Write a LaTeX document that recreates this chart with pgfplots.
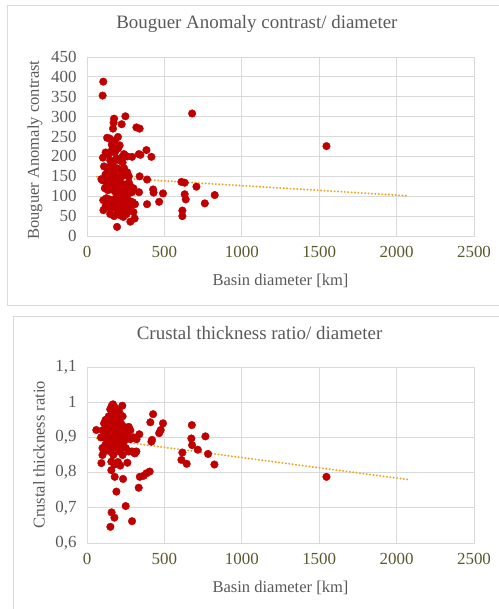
\documentclass[border=0pt]{standalone}
\usepackage{pgfplots}
\pgfplotsset{compat=1.18}
\usepackage{fontspec}
\setmainfont{Liberation Serif}

\definecolor{txtgray}{RGB}{89,89,89}
\definecolor{ticko}{RGB}{89,89,48}
\definecolor{gridc}{RGB}{217,217,217}
\definecolor{dotred}{RGB}{192,0,0}
\definecolor{trendc}{RGB}{238,165,40}

\pgfplotsset{
  excelstyle/.style={
    scale only axis,
    width=387bp,
    xmin=0, xmax=2500, xtick={0,500,1000,1500,2000,2500},
    grid=major, major grid style={gridc, line width=0.8bp},
    axis line style={gridc, line width=0.8bp},
    major tick length=0pt,
    /pgf/number format/use comma,
    /pgf/number format/1000 sep={},
    tick label style={font=\fontsize{17}{19}\selectfont,
      /pgf/number format/assume math mode=true},
    xticklabel style={ticko, yshift=-7bp},
    yticklabel style={txtgray, xshift=-7bp},
    label style={font=\fontsize{16.6}{19}\selectfont, txtgray},
    title style={font=\fontsize{19}{22}\selectfont, txtgray, anchor=base},
    xlabel style={at={(axis description cs:0.5,0)}, anchor=base, yshift=-49bp},
  },
  reddots/.style={only marks, mark=*, mark size=3.8bp,
    mark options={fill=dotred, draw=dotred}},
  trend/.style={trendc, line width=2.2bp, line cap=round,
    dash pattern=on 0pt off 3.4bp},
}

\begin{document}
\begin{tikzpicture}
% chart frames
\draw[gridc, line width=0.8bp] (7bp,-5bp) rectangle (520bp,-305bp);
\draw[gridc, line width=0.8bp] (13bp,-316bp) rectangle (520bp,-620bp);

\begin{axis}[excelstyle,
  at={(87bp,-236bp)}, anchor=south west,
  height=179bp,
  ymin=0, ymax=450, ytick={0,50,...,450},
  title={Bouguer Anomaly contrast/ diameter},
  title style={at={(axis description cs:0.439,1.127)}},
  xlabel={Basin diameter [km]},
  ylabel={Bouguer Anomaly contrast},
  ylabel style={at={(axis description cs:-0.1344,0.48)}, anchor=center},
]
\addplot[reddots] table {
x y
105 388
101 353
679 308
1547 226
248 301
224 281
175 295
172 285
168 270
319 273
340 270
130 247
147 245
200 249
384 216
335 206
345 204
416 199
291 199
239 206
103 197
211 228
168 220
340 150
388 142
259 153
610 136
631 134
707 124
825 103
761 82
631 105
638 92
616 64
616 50
491 107
466 86
427 117
430 109
388 80
336 110
308 44
280 36
194 23
106 65
93 143
120 210
140 205
160 215
180 210
200 220
150 190
170 185
190 195
210 190
230 185
110 175
130 170
150 175
175 165
195 170
215 165
240 170
260 160
120 155
140 150
160 155
185 150
205 145
225 150
250 155
270 150
100 140
125 135
145 140
170 135
190 130
210 135
235 130
255 125
280 125
300 120
115 120
135 115
155 118
180 112
200 120
220 110
245 115
265 105
290 110
105 90
125 95
145 92
165 88
185 95
205 90
230 85
250 90
275 88
295 85
310 80
120 75
140 72
160 70
180 78
200 68
220 72
240 65
260 75
280 70
150 55
175 50
195 58
215 52
235 48
255 55
300 60
130 85
160 130
240 100
200 100
270 135
230 200
180 240
160 230
260 200
};
\addplot[trend] coordinates {(65,149) (2074,101)};
\end{axis}

\begin{axis}[excelstyle,
  at={(87bp,-543bp)}, anchor=south west,
  height=176bp,
  ymin=0.6, ymax=1.1, ytick={0.6,0.7,0.8,0.9,1,1.1},
  title={Crustal thickness ratio/ diameter},
  title style={at={(axis description cs:0.446,1.125)}},
  xlabel={Basin diameter [km]},
  ylabel={Crustal thickness ratio},
  ylabel style={at={(axis description cs:-0.124,0.5)}, anchor=center},
]
\addplot[reddots] table {
x y
1547 0.788
151 0.646
177 0.672
159 0.687
250 0.705
291 0.662
190 0.746
334 0.757
341 0.788
366 0.791
384 0.798
405 0.803
233 0.782
179 0.788
261 0.828
93 0.827
157 0.831
179 0.823
157 0.807
308 0.855
319 0.86
338 0.909
416 0.888
420 0.893
427 0.966
409 0.943
491 0.94
466 0.912
476 0.921
677 0.935
674 0.897
679 0.878
716 0.865
765 0.903
782 0.853
823 0.823
616 0.857
610 0.836
644 0.825
60 0.921
168 0.994
228 0.99
100 0.92
110 0.94
120 0.95
130 0.93
140 0.96
150 0.98
160 0.99
170 0.97
180 0.985
190 0.96
200 0.95
210 0.97
220 0.94
230 0.96
240 0.93
250 0.92
260 0.91
270 0.93
280 0.92
300 0.9
320 0.895
110 0.9
120 0.88
130 0.9
140 0.91
150 0.89
160 0.92
170 0.9
180 0.88
190 0.91
200 0.89
210 0.9
220 0.87
230 0.88
240 0.89
250 0.87
270 0.86
290 0.86
310 0.855
100 0.87
100 0.85
110 0.86
130 0.87
150 0.86
170 0.85
190 0.87
210 0.86
230 0.85
200 0.83
215 0.82
140 0.94
160 0.945
180 0.93
200 0.925
220 0.915
160 0.87
120 0.92
90 0.9
180 0.95
150 0.95
170 0.94
200 0.975
145 0.88
250 0.9
280 0.895
};
\addplot[trend] coordinates {(65,0.897) (2080,0.78)};
\end{axis}

\pgfresetboundingbox
\path[use as bounding box] (0,0) rectangle (499bp,-609bp);
\end{tikzpicture}
\end{document}
